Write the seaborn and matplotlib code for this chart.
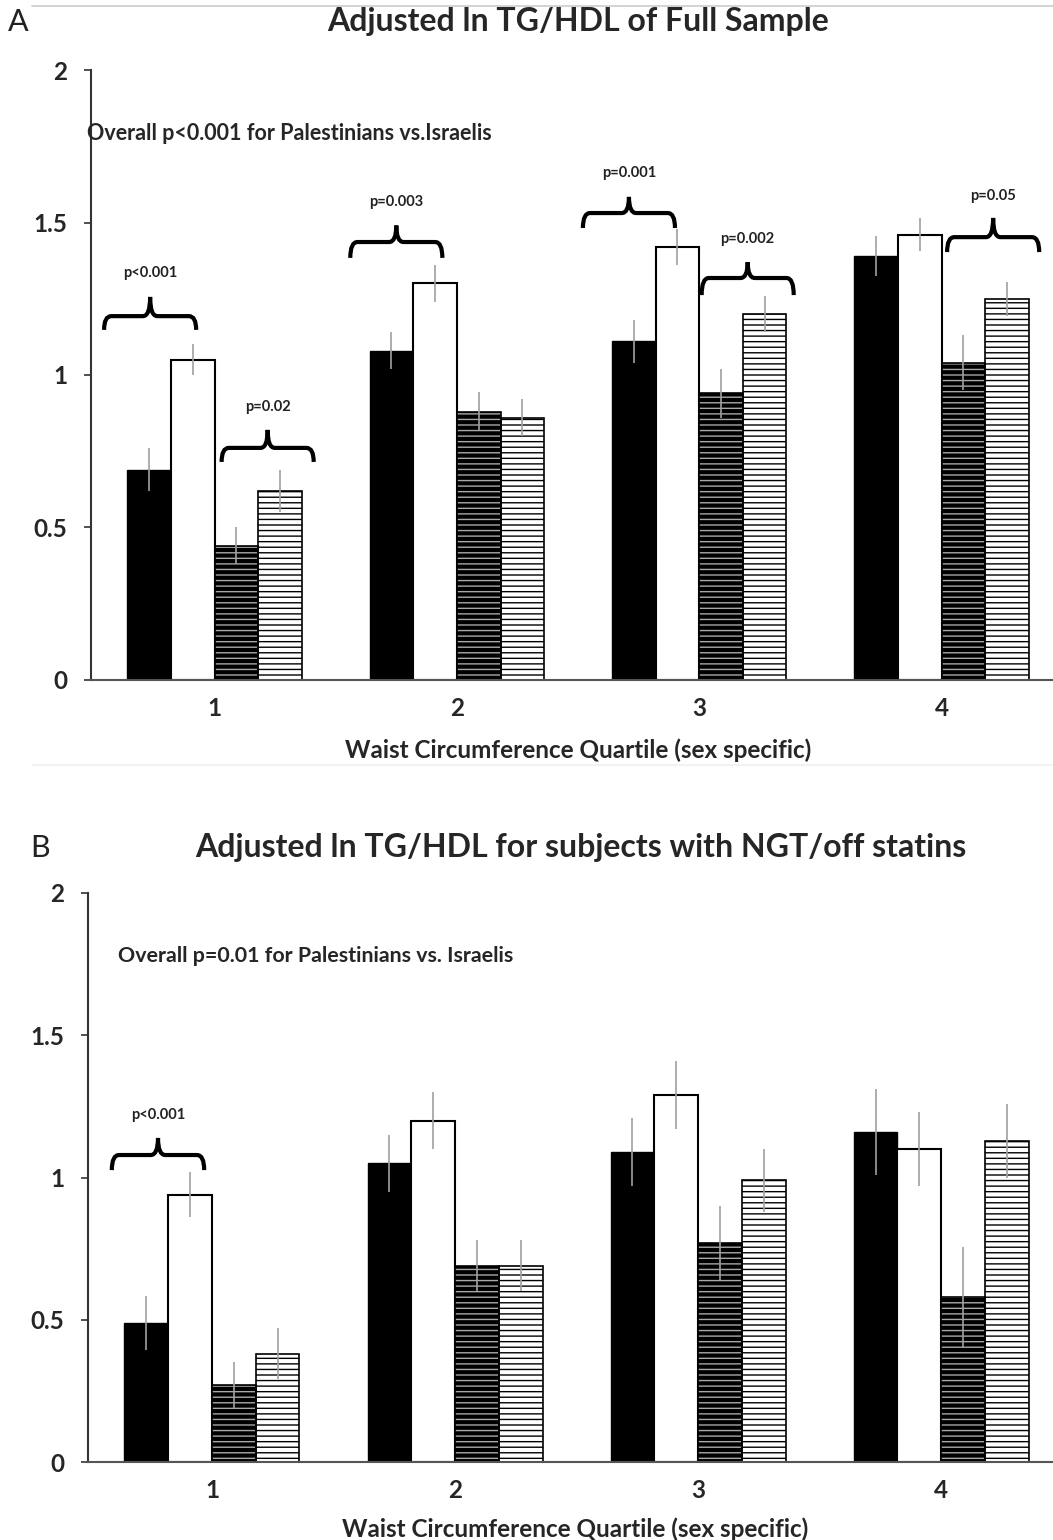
import numpy as np
import pandas as pd
import seaborn as sns
import matplotlib.pyplot as plt
from matplotlib.path import Path
from matplotlib.patches import PathPatch, Rectangle
from matplotlib.lines import Line2D

quartiles = ['1', '2', '3', '4']
groups = ['series 1', 'series 2', 'series 3', 'series 4']
ytick_vals = [0, 0.5, 1, 1.5, 2]
ytick_labels = ['0', '0.5', '1', '1.5', '2']

# panel A: full sample
a_s1 = [0.69, 1.08, 1.11, 1.39]
a_s2 = [1.05, 1.30, 1.42, 1.46]
a_s3 = [0.44, 0.88, 0.94, 1.04]
a_s4 = [0.62, 0.86, 1.20, 1.25]
a_e1 = [0.07, 0.06, 0.07, 0.065]
a_e2 = [0.05, 0.06, 0.06, 0.055]
a_e3 = [0.06, 0.065, 0.08, 0.09]
a_e4 = [0.07, 0.06, 0.06, 0.055]

# panel B: NGT / off statins
b_s1 = [0.49, 1.05, 1.09, 1.16]
b_s2 = [0.94, 1.20, 1.29, 1.10]
b_s3 = [0.27, 0.69, 0.77, 0.58]
b_s4 = [0.38, 0.69, 0.99, 1.13]
b_e1 = [0.095, 0.10, 0.12, 0.15]
b_e2 = [0.08, 0.10, 0.12, 0.13]
b_e3 = [0.08, 0.09, 0.13, 0.175]
b_e4 = [0.09, 0.09, 0.11, 0.13]

a_title = 'Adjusted ln TG/HDL of Full Sample'
b_title = 'Adjusted ln TG/HDL for subjects with NGT/off statins'
a_note = 'Overall p<0.001 for Palestinians vs.Israelis'
b_note = 'Overall p=0.01 for Palestinians vs. Israelis'
xlab = 'Waist Circumference Quartile (sex specific)'

# brace annotations: (category index, offset, line y, end y, peak y, label y, label)
a_braces = [
    (0, -0.266, 1.193, 1.148, 1.256, 1.334, 'p<0.001'),
    (0, 0.219, 0.761, 0.715, 0.820, 0.895, 'p=0.02'),
    (1, -0.250, 1.436, 1.384, 1.490, 1.567, 'p=0.003'),
    (2, -0.290, 1.531, 1.482, 1.584, 1.662, 'p=0.001'),
    (2, 0.200, 1.318, 1.262, 1.370, 1.446, 'p=0.002'),
    (3, 0.213, 1.452, 1.403, 1.515, 1.587, 'p=0.05'),
]
b_braces = [
    (0, -0.222, 1.079, 1.026, 1.139, 1.220, 'p<0.001'),
]

sns.set_style('white')
plt.rcParams['font.family'] = ['Lato', 'DejaVu Sans']
plt.rcParams['hatch.linewidth'] = 1.0


def make_df(vals):
    rows = []
    for g, v in zip(groups, vals):
        for q, y in zip(quartiles, v):
            rows.append({'quartile': q, 'group': g, 'value': y})
    return pd.DataFrame(rows)


def brace(ax, cat, off, y, yend, ypeak, ylab, label, hw=0.19, r=0.03):
    xm = cat + off
    x0, x1 = xm - hw, xm + hw
    verts = [(x0, yend), (x0, y), (x0 + r, y),
             (xm - r, y), (xm, y), (xm, ypeak),
             (xm, y), (xm + r, y),
             (x1 - r, y), (x1, y), (x1, yend)]
    codes = [Path.MOVETO, Path.CURVE3, Path.CURVE3,
             Path.LINETO, Path.CURVE3, Path.CURVE3,
             Path.CURVE3, Path.CURVE3,
             Path.LINETO, Path.CURVE3, Path.CURVE3]
    ax.add_patch(PathPatch(Path(verts, codes), fill=False, lw=3,
                           edgecolor='black', capstyle='butt', zorder=5))
    ax.text(xm, ylab, label, ha='center', va='center', fontsize=10.5,
            fontweight='bold', color='#222222')


def panel(ax, vals, errs, braces):
    df = make_df(vals)
    sns.barplot(data=df, x='quartile', y='value', hue='group', hue_order=groups,
                palette=['black', 'white', 'black', 'white'], width=0.72,
                errorbar=None, legend=False, saturation=1, ax=ax)
    conts = list(ax.containers)
    for i, cont in enumerate(conts):
        for p in cont.patches:
            if i == 0:
                p.set_facecolor('black'); p.set_edgecolor('black'); p.set_linewidth(1)
            elif i == 1:
                p.set_facecolor('white'); p.set_edgecolor('black'); p.set_linewidth(1.5)
            elif i == 2:
                p.set_facecolor('black'); p.set_edgecolor('#a8a8a8')
                p.set_hatch('---'); p.set_linewidth(0)
                ax.add_patch(Rectangle(p.get_xy(), p.get_width(), p.get_height(),
                                       fill=False, edgecolor='black', lw=1.2, zorder=p.get_zorder() + 0.1))
            else:
                p.set_facecolor('white'); p.set_edgecolor('black')
                p.set_hatch('---'); p.set_linewidth(1.2)
        xs = [p.get_x() + p.get_width() / 2 for p in cont.patches]
        hs = [p.get_height() for p in cont.patches]
        ax.errorbar(xs, hs, yerr=errs[i], fmt='none', ecolor='#a0a0a0',
                    elinewidth=1.2, capsize=0, zorder=4)
    for b in braces:
        brace(ax, *b)
    ax.set_ylim(0, 2)
    ax.set_xlim(-0.51, 3.46)
    ax.set_yticks(ytick_vals)
    ax.set_yticklabels(ytick_labels, fontsize=17.5, fontweight='bold')
    ax.set_xticks(range(len(quartiles)))
    ax.set_xticklabels(quartiles, fontsize=17.5, fontweight='bold')
    ax.set_xticks([0.5, 1.5, 2.5], minor=True)
    ax.tick_params(axis='x', which='major', length=0, pad=12)
    ax.tick_params(axis='x', which='minor', length=5, width=1.2, direction='out', color='#333333')
    ax.tick_params(axis='y', length=5, width=1.2, direction='out', pad=12, color='#333333', left=True)
    ax.set_xlabel('')
    ax.set_ylabel('')
    for s in ['top', 'right']:
        ax.spines[s].set_visible(False)
    ax.spines['left'].set_color('#333333')
    ax.spines['left'].set_linewidth(1.5)
    ax.spines['bottom'].set_color('#555555')
    ax.spines['bottom'].set_linewidth(1.5)


fig = plt.figure(figsize=(10.53, 15.4), dpi=100)
H = 1540.0
W = 1053.0
ax_a = fig.add_axes([91 / W, 1 - 680 / H, 1 - 91 / W, (680 - 70) / H])
ax_b = fig.add_axes([88 / W, 1 - 1462 / H, 1 - 88 / W, (1462 - 893) / H])

panel(ax_a, [a_s1, a_s2, a_s3, a_s4], [a_e1, a_e2, a_e3, a_e4], a_braces)
panel(ax_b, [b_s1, b_s2, b_s3, b_s4], [b_e1, b_e2, b_e3, b_e4], b_braces)

fig.text(578 / W, 1 - 22 / H, a_title, ha='center', va='center', fontsize=23, fontweight='bold')
fig.text(581 / W, 1 - 848 / H, b_title, ha='center', va='center', fontsize=23, fontweight='bold')
fig.text(8 / W, 1 - 22 / H, 'A', ha='left', va='center', fontsize=22, color='#222222')
fig.text(30 / W, 1 - 848 / H, 'B', ha='left', va='center', fontsize=22, color='#222222')
fig.text(87 / W, 1 - 133 / H, a_note, ha='left', va='center', fontsize=15.5, fontweight='bold')
fig.text(118 / W, 1 - 956 / H, b_note, ha='left', va='center', fontsize=15.4, fontweight='bold')
fig.text(578 / W, 1 - 750 / H, xlab, ha='center', va='center', fontsize=17.5, fontweight='bold')
fig.text(575 / W, 1 - 1529 / H, xlab, ha='center', va='center', fontsize=17.5, fontweight='bold')

fig.add_artist(Line2D([32 / W, 1], [1 - 6 / H, 1 - 6 / H], color='#cccccc', lw=1.2))
fig.add_artist(Line2D([32 / W, 1], [1 - 765 / H, 1 - 765 / H], color='#f0f0f0', lw=1.2))

fig.savefig('out.png', dpi=100)
